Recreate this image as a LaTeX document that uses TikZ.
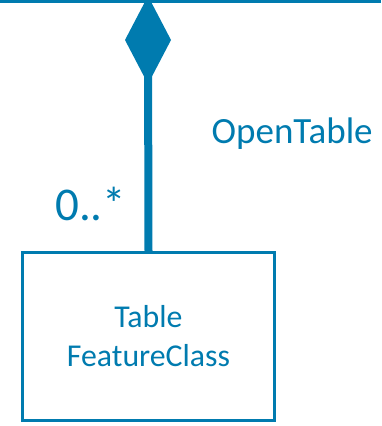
\documentclass[tikz,border=0pt]{standalone}
\usepackage{fontspec}
\setmainfont{Carlito}
\definecolor{umlblue}{RGB}{0,123,175}
\begin{document}
\begin{tikzpicture}[x=1pt,y=-1pt,
  classbox/.style={draw=umlblue,line width=3.3pt,minimum width=252pt,minimum height=168pt,inner sep=0pt,align=center,text=umlblue,font=\fontsize{31.8}{39}\selectfont},
  lbl/.style={text=umlblue,inner sep=0pt},
  conn/.style={draw=umlblue,line width=8pt}]
\useasboundingbox (0,0) rectangle (381,426);
\draw[umlblue,line width=3pt] (0,1.5) -- (381,1.5);
\coordinate (dtop) at (148,-4);
\coordinate (dleft) at (125,40);
\coordinate (dright) at (171,40);
\coordinate (dbot) at (148,84);
\coordinate (dmid) at (148,40);
\node[classbox] (box) at (148.5,336.5) {Table\\FeatureClass};
\draw[conn] (dmid) -- (box.north);
\fill[umlblue] (dtop) -- (dright) -- (dbot) -- (dleft) -- cycle;
\node[lbl,anchor=base west,font=\fontsize{37}{44}\selectfont] (role) at (211.5,143) {OpenTable};
\node[lbl,anchor=base west,font=\fontsize{47}{56}\selectfont] (mult) at (55,220) {0..*};
\end{tikzpicture}
\end{document}
